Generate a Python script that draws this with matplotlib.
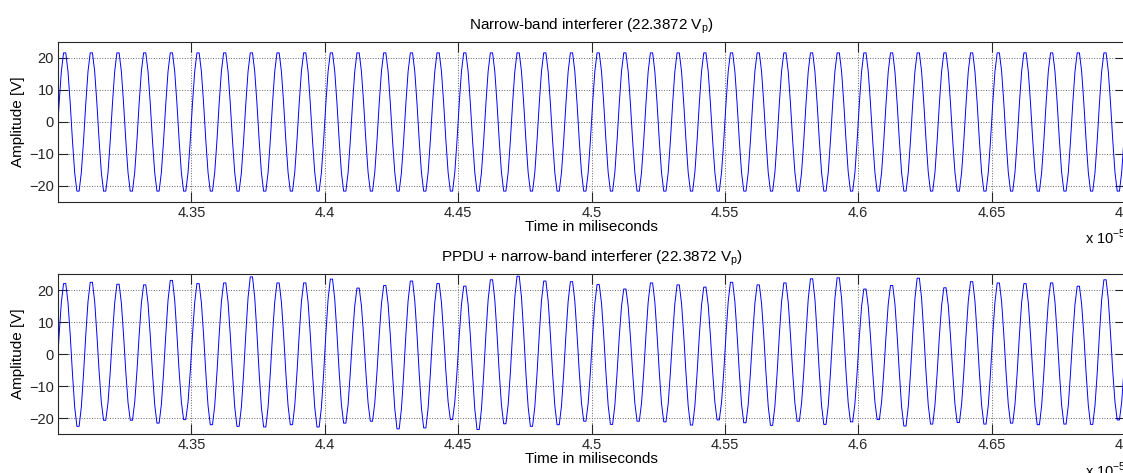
import numpy as np
import matplotlib
matplotlib.use("Agg")
import matplotlib.pyplot as plt

plt.rcParams['font.family'] = ['Liberation Sans', 'DejaVu Sans']

# time axis (x 1e-5 ms)
t_start = 4.30
t_end = 4.70
period = 0.01
xticks = [4.35, 4.4, 4.45, 4.5, 4.55, 4.6, 4.65, 4.7]
xtick_labels = ["4.35", "4.4", "4.45", "4.5", "4.55", "4.6", "4.65", "4.7"]
yticks = [-20, -10, 0, 10, 20]

# one period of the sampled interferer, starting after the rising zero crossing
tone_cycle = [5.8, 15.8, 21.6, 21.6, 15.8, 5.8, -5.8, -15.8, -21.6, -21.6, -15.8, -5.8]

# PPDU + interferer: positive peak and negative trough of each cycle
ppdu_peaks = [22.0, 22.4, 21.8, 21.6, 23.0, 22.0, 22.2, 24.1, 22.2, 22.2,
              23.4, 20.6, 21.4, 22.8, 22.0, 21.2, 23.2, 24.3, 22.8, 22.6,
              21.7, 20.3, 22.2, 21.6, 20.9, 22.4, 21.6, 22.2, 23.5, 23.8,
              20.3, 21.4, 23.7, 20.7, 22.6, 22.2, 22.0, 22.2, 21.2, 23.2]
ppdu_troughs = [-22.6, -20.7, -20.7, -21.6, -20.5, -22.1, -22.6, -22.8, -22.1, -22.8,
                -21.6, -21.0, -23.4, -23.1, -20.5, -23.6, -21.8, -22.6, -22.1, -21.0,
                -22.0, -21.0, -21.2, -22.2, -20.6, -21.5, -22.3, -21.0, -22.0, -21.2,
                -20.5, -22.5, -21.9, -21.4, -21.9, -21.6, -22.1, -21.9, -22.0, -20.6]

n_per = len(tone_cycle)
dt = period / n_per
idx = np.arange(-1, 41 * n_per)
t = t_start + (idx + 0.5) * dt
tone = np.array([tone_cycle[i % n_per] for i in idx])

mixed = []
for i, v in zip(idx, tone):
    k = min(max(i // n_per, 0), len(ppdu_peaks) - 1)
    if v > 0:
        mixed.append(v * ppdu_peaks[k] / 21.6)
    else:
        mixed.append(v * ppdu_troughs[k] / -21.6)
mixed = np.array(mixed)

fig = plt.figure(figsize=(11.23, 4.73), dpi=100)
W, H = 1123, 473
ax1 = fig.add_axes([58 / W, (H - 202) / H, (1125 - 58) / W, 160 / H])
ax2 = fig.add_axes([58 / W, (H - 434) / H, (1125 - 58) / W, 160 / H])

titles = ["Narrow-band interferer (22.3872 V$_\\mathregular{p}$)",
          "PPDU + narrow-band interferer (22.3872 V$_\\mathregular{p}$)"]

for ax, y, title in zip([ax1, ax2], [tone, mixed], titles):
    ax.plot(t, y, color=(0, 0, 1), lw=0.7)
    ax.set_xlim(t_start, t_end)
    ax.set_ylim(-25, 25)
    ax.set_xticks(xticks)
    ax.set_xticklabels(xtick_labels)
    ax.set_yticks(yticks)
    ax.tick_params(direction='in', length=7, width=0.8, labelsize=10.5,
                   top=True, right=True, colors='#262626', pad=3)
    ax.grid(True, linestyle=':', color='#666666', lw=0.7)
    for s in ax.spines.values():
        s.set_color('#262626')
        s.set_linewidth(0.8)
    ax.set_title(title, fontsize=11, pad=9)
    ax.set_xlabel("Time in miliseconds", fontsize=11, labelpad=0)
    ax.set_ylabel("Amplitude [V]", fontsize=11, labelpad=3)

fig.text(1085 / W, (H - 237) / H, "x 10$^\\mathregular{-5}$", fontsize=10.5, va='center')
fig.text(1085 / W, (H - 470) / H, "x 10$^\\mathregular{-5}$", fontsize=10.5, va='center')

fig.savefig("out.png", dpi=100, facecolor='white')
